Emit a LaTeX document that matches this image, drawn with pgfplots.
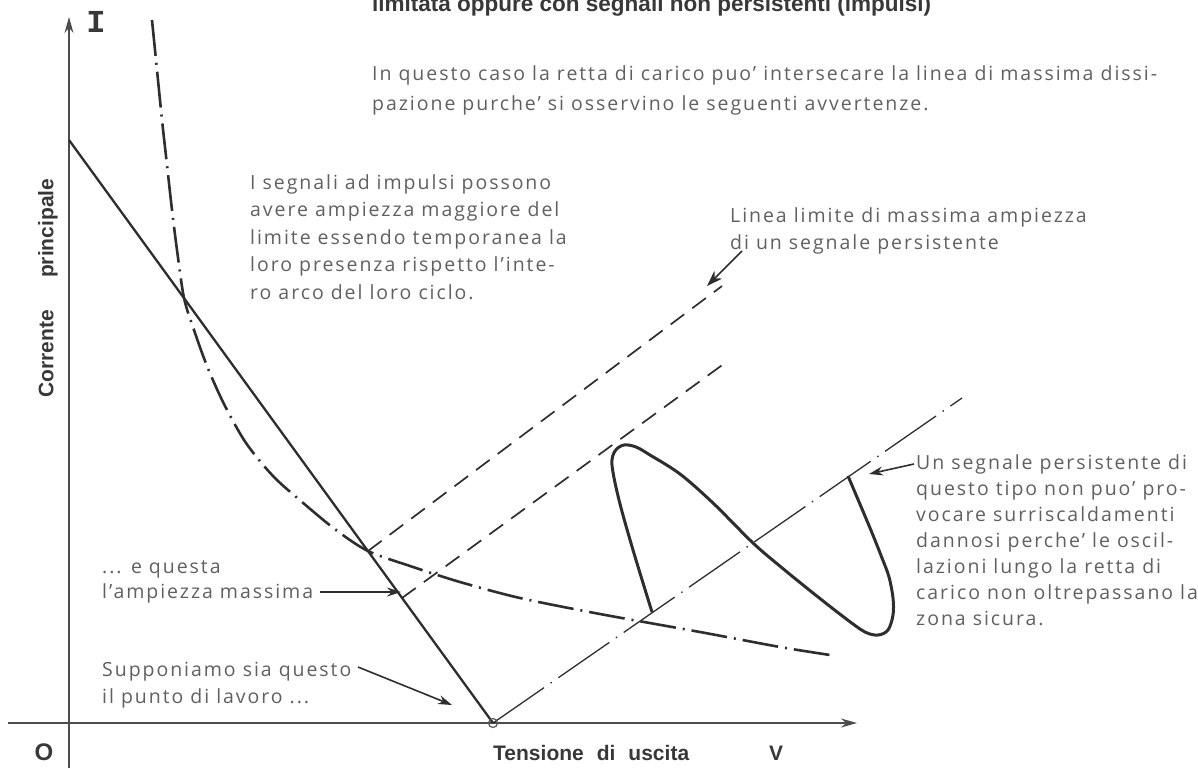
\documentclass[border=0pt]{standalone}
\usepackage{pgfplots}
\pgfplotsset{compat=1.18}
\usepackage{fontspec}
\setmainfont{Open Sans}
\newfontfamily\txt{Open Sans}[LetterSpace=10]
\newfontfamily\bld{Liberation Sans}
\newfontfamily\mono{Liberation Mono}
\usetikzlibrary{arrows.meta}
\definecolor{ink}{HTML}{2E2E2E}
\definecolor{txtc}{HTML}{606060}
\definecolor{bldc}{HTML}{383838}
\begin{document}
\begin{tikzpicture}
\begin{axis}[hide axis, scale only axis, width=1198pt, height=768pt,
  xmin=0, xmax=1198, ymin=0, ymax=768, y dir=reverse, clip=false]
% axes
\addplot[draw=ink!85, line width=1.3pt, -{Stealth[length=16pt,width=9pt]}] coordinates {(69,768) (69,17)};
\addplot[draw=ink!85, line width=1.3pt, -{Stealth[length=16pt,width=9pt]}] coordinates {(8,723) (857,723)};
% load line
\addplot[draw=ink, line width=2.3pt] coordinates {(69,140) (493,723)};
% max dissipation curve (dash-dot)
\addplot[draw=ink, line width=2.6pt, smooth, tension=0.5, dash pattern=on 36pt off 7pt on 2pt off 7pt] coordinates {
(152,20) (157,70) (162,120) (167,165) (172,210) (177,250) (184,298) (194,330) (207,366) (224,404) (246,443) (273,476) (302,502) (336,530) (368,551) (410,566) (460,582) (520,598) (600,614) (700,632) (780,647) (830,655)};
% dashed lines
\addplot[draw=ink, line width=1.7pt, dash pattern=on 17pt off 10pt] coordinates {(368,551) (722,286)};
\addplot[draw=ink, line width=1.7pt, dash pattern=on 17pt off 10pt] coordinates {(402,598) (725,363)};
% centre line of the signal (dash-dot, thin)
\addplot[draw=ink, line width=1.3pt, dash pattern=on 62pt off 8pt on 1.5pt off 8pt] coordinates {(493,723) (962,398)};
% signal loop
\addplot[draw=ink, line width=3pt, smooth, tension=0.55] coordinates {
(652,612) (633,550) (619,500) (612,465) (615,451) (624,445) (636,447) (650,455) (680,474) (713,503) (753,543) (781,567) (813,593) (845,618) (865,632) (878,635) (888,630) (893,615) (893,598) (889,577) (882,558) (870,528) (848,476)};
% operating point
\addplot[only marks, mark=o, mark size=4.5pt, mark options={draw=ink!80, line width=1.2pt}] coordinates {(493,723)};
% arrows
\addplot[draw=ink, line width=1.6pt, -{Stealth[length=16pt,width=11pt]}] coordinates {(742,251) (707,286)};
\addplot[draw=ink, line width=1.6pt, -{Stealth[length=14pt,width=9pt]}] coordinates {(914,464) (869,474)};
\addplot[draw=ink, line width=1.6pt, -{Stealth[length=14pt,width=9pt]}] coordinates {(320,592) (401,592)};
\addplot[draw=ink, line width=1.6pt, -{Stealth[length=14pt,width=9pt]}] coordinates {(358,667) (452,705)};

% bold labels
\node[anchor=base west, inner sep=0, text=bldc, font=\bld\bfseries\fontsize{22.5}{24}\selectfont] at (axis cs:372,12) {limitata oppure con segnali non persistenti (impulsi)};
\node[anchor=center, inner sep=0, text=bldc, font=\bld\bfseries\fontsize{24}{26}\selectfont] at (axis cs:44,752) {O};
\node[anchor=base west, inner sep=0, text=bldc, font=\bld\bfseries\fontsize{21}{24}\selectfont] at (axis cs:493,760) {Tensione\hspace{13pt}di\hspace{13pt}uscita\hspace{80pt}V};
\node[anchor=center, inner sep=0, rotate=90, text=bldc, font=\bld\bfseries\fontsize{21}{24}\selectfont] at (axis cs:48,288) {Corrente\hspace{32pt}principale};
\node[anchor=center, inner sep=0, text=bldc, font=\mono\bfseries\fontsize{32}{34}\selectfont] at (axis cs:96,22) {I};

% light text
\begin{scope}[every node/.style={anchor=base west, inner sep=0, text=txtc, font=\txt\fontsize{19.5}{22}\selectfont}]
\node at (axis cs:372,81) {In questo caso la retta di carico puo’ intersecare la linea di massima dissi-};
\node at (axis cs:372,110) {pazione purche’ si osservino le seguenti avvertenze.};
\node at (axis cs:250,189) {I segnali ad impulsi possono};
\node at (axis cs:250,216) {avere ampiezza maggiore del};
\node at (axis cs:250,244) {limite essendo temporanea la};
\node at (axis cs:250,271) {loro presenza rispetto l’inte-};
\node at (axis cs:250,299) {ro arco del loro ciclo.};
\node at (axis cs:730,222) {Linea limite di massima ampiezza};
\node at (axis cs:730,249) {di un segnale persistente};
\node at (axis cs:916,469) {Un segnale persistente di};
\node at (axis cs:916,495) {questo tipo non puo’ pro-};
\node at (axis cs:916,521) {vocare surriscaldamenti};
\node at (axis cs:916,547) {dannosi perche’ le oscil-};
\node at (axis cs:916,573) {lazioni lungo la retta di};
\node at (axis cs:916,599) {carico non oltrepassano la};
\node at (axis cs:916,625) {zona sicura.};
\node at (axis cs:102,573) {... e questa};
\node at (axis cs:102,598) {l’ampiezza massima};
\node at (axis cs:102,676) {Supponiamo sia questo};
\node at (axis cs:102,703) {il punto di lavoro ...};
\end{scope}
\end{axis}
\pgfresetboundingbox
\useasboundingbox (current axis.south west) rectangle (current axis.north east);
\end{tikzpicture}
\end{document}
